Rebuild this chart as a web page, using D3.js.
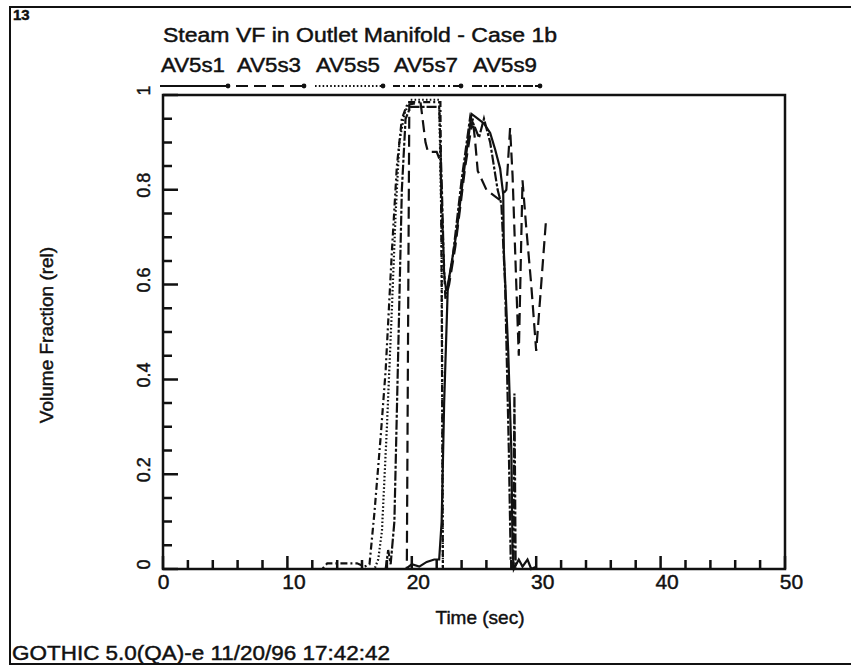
<!DOCTYPE html>
<html>
<head>
<meta charset="utf-8">
<script src="https://cdn.jsdelivr.net/npm/d3@7"></script>
<style>
  body { margin: 0; background: #fff; }
  text { font-family: "Liberation Sans", Arial, sans-serif; fill: #111; stroke: #111; stroke-width: 0.45px; }
</style>
</head>
<body>
<div id="svg_area"></div>
<script>
// Series data: [time (sec), volume fraction]
var av5s1 = [[0,0],[19.5,0],[20.0,0.01],[20.6,0.005],[21.2,0.015],[21.8,0.02],[22.2,0.02],[22.4,0.1],[22.6,0.35],
  [22.9,0.6],[23.1,0.63],[23.6,0.71],[24.1,0.82],[24.8,0.96],[25.3,0.95],[25.8,0.94],[26.3,0.92],[26.7,0.885],
  [27.1,0.845],[27.35,0.79],[27.4,0.67],[27.75,0.46],[28.0,0.25],[28.1,0.04],[28.2,0],[28.6,0.02],[28.9,0.005],
  [29.3,0.02],[29.6,0],[30,0.005]];
var av5s3 = [[0,0],[19.6,0],[19.7,0.5],[19.8,0.98],[20.7,0.985],[21.1,0.9],[21.3,0.88],[22.0,0.88],[22.3,0.86],
  [22.5,0.7],[22.7,0.57],[23.0,0.6],[23.5,0.68],[24.3,0.85],[24.9,0.95],[25.1,0.9],[25.3,0.84],[26.0,0.8],
  [27.0,0.78],[27.6,0.8],[27.9,0.93],[28.1,0.83],[28.4,0.6],[28.6,0.45],[28.9,0.82],[29.2,0.72],[29.6,0.6],
  [30.0,0.46],[30.4,0.6],[30.8,0.74]];
var av5s5 = [[0,0],[17.0,0],[17.3,0.02],[17.6,0.08],[18.0,0.3],[18.4,0.55],[18.7,0.75],[19.0,0.9],[19.4,0.96],
  [19.9,0.99],[22.2,0.99],[22.4,0.7],[22.5,0],[30,0]];
var av5s7 = [[0,0],[12.8,0],[13.2,0.012],[15.6,0.012],[16.2,0.005],[16.6,0.01],[17.0,0.12],[17.5,0.28],[17.9,0.42],
  [18.4,0.67],[18.8,0.85],[19.2,0.95],[19.7,0.985],[22.3,0.985],[22.4,0.6],[22.5,0],[30,0]];
var av5s9 = [[0,0],[17.9,0],[18.1,0.04],[18.3,0.01],[18.6,0.1],[18.9,0.45],[19.2,0.8],[19.5,0.95],[19.9,0.975],
  [22.2,0.975],[22.4,0.82],[22.6,0.62],[22.8,0.58],[23.3,0.66],[24.0,0.82],[24.7,0.955],[25.1,0.93],[25.4,0.91],
  [25.8,0.95],[26.3,0.9],[26.9,0.8],[27.2,0.77],[27.5,0.6],[27.8,0.25],[27.95,0.02],[28.15,0],[28.25,0.37],
  [28.35,0],[30,0]];

var seriesNames = ["AV5s1", "AV5s3", "AV5s5", "AV5s7", "AV5s9"];
var xTicks = [0, 10, 20, 30, 40, 50];
var yTicks = [0, 0.2, 0.4, 0.6, 0.8, 1];

// dash styles, one per series
var dashes = ["none", "12,6", "1.6,2.2", "7,3,2,3", "10,2,3,2"];

var svgWidth = 851;
var svgHeight = 666;

// plot box
var margin = { top: 95, right: 66, bottom: 97, left: 163 };
var chartWidth = svgWidth - margin.left - margin.right;
var chartHeight = svgHeight - margin.top - margin.bottom;

var svg = d3.select("#svg_area")
  .append("svg")
  .attr("width", svgWidth)
  .attr("height", svgHeight);

// outer page frame (runs off to the right)
svg.append("path")
  .attr("d", "M853,7 H10 V664 H853")
  .attr("fill", "none")
  .attr("stroke", "#111")
  .attr("stroke-width", 2);

svg.append("text")
  .attr("x", 13)
  .attr("y", 20)
  .attr("font-size", "15px")
  .attr("font-weight", "bold")
  .text("13");

svg.append("text")
  .attr("x", 163)
  .attr("y", 42)
  .attr("font-size", "20px")
  .attr("textLength", 394)
  .attr("lengthAdjust", "spacingAndGlyphs")
  .text("Steam VF in Outlet Manifold - Case 1b");

var chartGroup = svg.append("g")
  .attr("transform", `translate(${margin.left}, ${margin.top})`);

var xScale = d3.scaleLinear().domain([0, 50]).range([0, chartWidth]);
var yScale = d3.scaleLinear().domain([0, 1]).range([chartHeight, 0]);

// plot box
chartGroup.append("rect")
  .attr("width", chartWidth)
  .attr("height", chartHeight)
  .attr("fill", "none")
  .attr("stroke", "#111")
  .attr("stroke-width", 2.5);

// inward tick marks (minor every 2 s / 0.05, major every 10 s / 0.2)
var xMinor = d3.range(0, 51, 2);
var yMinor = d3.range(0, 21).map(d => d * 0.05);

var xTickPath = xMinor.map(t => "M" + xScale(t).toFixed(1) + "," + chartHeight + "V" + (chartHeight - (t % 10 === 0 ? 13 : 9))).join(" ");
var yTickPath = yMinor.map((v, i) => "M0," + yScale(v).toFixed(1) + "H" + (i % 4 === 0 ? 15 : 9)).join(" ");

chartGroup.append("path")
  .attr("d", xTickPath + " " + yTickPath)
  .style("fill", "none")
  .style("stroke", "#111")
  .style("stroke-width", "2.5px");

// tick labels
var xAxis = chartGroup.append("g")
  .attr("transform", `translate(0, ${chartHeight})`)
  .call(d3.axisBottom(xScale).tickValues(xTicks).tickSize(0).tickPadding(5).tickFormat(d3.format("d")));
xAxis.select(".domain").remove();
xAxis.selectAll("text")
  .attr("font-size", "21px")
  .attr("font-family", "Liberation Sans, Arial, sans-serif")
  .attr("fill", "#111")
  .attr("dy", "0.72em")
  .attr("dx", d => d === 0 ? 0 : 6);

var yAxis = chartGroup.append("g")
  .call(d3.axisLeft(yScale).tickValues(yTicks).tickSize(0).tickFormat(d => d === 0 ? "0" : d === 1 ? "1" : d3.format(".1f")(d)));
yAxis.select(".domain").remove();
yAxis.selectAll("text")
  .attr("font-size", "18px")
  .attr("font-family", "Liberation Sans, Arial, sans-serif")
  .attr("fill", "#111")
  .attr("text-anchor", "middle")
  .attr("x", 0)
  .attr("dy", 0)
  .attr("transform", "translate(-13, -5) rotate(-90)");

// axis titles
chartGroup.append("text")
  .attr("transform", "rotate(-90)")
  .attr("x", 0 - 240)
  .attr("y", 0 - margin.left + 53)
  .attr("text-anchor", "middle")
  .attr("font-size", "19px")
  .text("Volume Fraction (rel)");

chartGroup.append("text")
  .attr("transform", `translate(${chartWidth / 2 + 6}, ${chartHeight + 55})`)
  .attr("text-anchor", "middle")
  .attr("font-size", "19px")
  .text("Time (sec)");

svg.append("text")
  .attr("x", 12)
  .attr("y", 660)
  .attr("font-size", "20px")
  .attr("textLength", 378)
  .attr("lengthAdjust", "spacingAndGlyphs")
  .text("GOTHIC 5.0(QA)-e 11/20/96 17:42:42");

// lines
var line = d3.line()
  .x(d => xScale(d[0]))
  .y(d => yScale(d[1]));

var allSeries = [av5s1, av5s3, av5s5, av5s7, av5s9];

chartGroup.selectAll(".series")
  .data(allSeries)
  .enter()
  .append("path")
  .attr("class", "series")
  .attr("d", line)
  .attr("fill", "none")
  .attr("stroke", "#111")
  .attr("stroke-width", 2.2)
  .attr("stroke-dasharray", (d, i) => dashes[i]);

// legend across the top
var legendX = [161, 237, 316, 394, 473];
var legend = svg.selectAll(".legend")
  .data(seriesNames)
  .enter()
  .append("g")
  .attr("class", "legend")
  .attr("transform", (d, i) => `translate(${legendX[i]}, 0)`);

legend.append("text")
  .attr("x", 0)
  .attr("y", 72)
  .attr("font-size", "20px")
  .attr("textLength", 64)
  .attr("lengthAdjust", "spacingAndGlyphs")
  .text(d => d);

legend.append("line")
  .attr("x1", -1)
  .attr("x2", 66)
  .attr("y1", 86)
  .attr("y2", 86)
  .attr("stroke", "#111")
  .attr("stroke-width", 2.2)
  .attr("stroke-dasharray", (d, i) => dashes[i]);

legend.append("circle")
  .attr("cx", 67)
  .attr("cy", 86)
  .attr("r", 2.4)
  .attr("fill", "#111");
</script>
</body>
</html>
